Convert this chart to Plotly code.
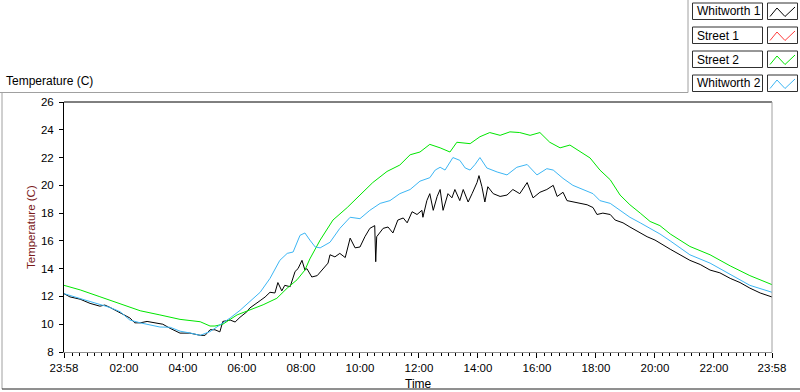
import plotly.graph_objects as go
from datetime import datetime, timedelta

# ---------------- data ----------------
green_t = ["23:58","00:31","01:11","01:52","02:33","03:13","03:54","04:35","04:55","05:05",
           "05:21","05:50","06:16","06:43","07:11","07:32","07:52","08:08","08:18","08:39",
           "09:05","09:34","10:00","10:26","10:55","11:21","11:42","12:02","12:22","12:43",
           "13:03","13:17","13:44","14:04","14:24","14:45","15:05","15:25","15:46","16:06",
           "16:26","16:47","17:07","17:28","17:48","18:08","18:29","18:49","19:09","19:30",
           "19:50","20:10","20:31","21:11","21:52","22:33","23:13","23:58"]
green_v = [12.8,12.47,11.98,11.5,10.97,10.67,10.35,10.18,9.87,9.87,
           10.0,10.67,11.0,11.4,11.87,12.6,13.2,13.9,14.7,16.06,
           17.5,18.4,19.3,20.2,21.0,21.46,22.2,22.4,22.95,22.7,
           22.4,23.1,23.0,23.5,23.8,23.6,23.85,23.8,23.6,23.8,
           23.1,22.7,22.9,22.4,21.97,21.1,20.4,19.3,18.6,18.0,
           17.4,17.1,16.5,15.6,15.0,14.2,13.5,12.85]

blue_t = ["23:58","00:31","01:11","01:32","01:52","02:12","02:33","03:13","03:34","03:54",
          "04:14","04:35","04:55","05:15","05:36","05:56","06:16","06:37","06:57","07:17",
          "07:32","07:44","07:58","08:08","08:18","08:29","08:39","08:59","09:19","09:40",
          "10:00","10:20","10:41","11:01","11:21","11:42","12:02","12:22","12:33","12:43",
          "12:53","13:09","13:23","13:34","13:44","13:54","14:04","14:18","14:39","14:59",
          "15:19","15:40","16:00","16:20","16:33","16:53","17:13","17:34","17:54","18:08",
          "18:29","18:49","19:09","19:30","19:50","20:10","20:31","20:51","21:11","21:52",
          "22:33","23:13","23:58"]
blue_v = [12.2,11.86,11.4,11.2,10.9,10.3,10.1,9.8,9.78,9.5,
          9.37,9.2,9.47,9.95,10.45,11.0,11.6,12.3,13.3,14.6,
          15.1,15.2,16.4,16.57,16.06,15.56,15.5,15.9,16.9,17.7,
          17.6,18.2,18.7,18.9,19.4,19.7,20.3,20.55,21.1,21.3,
          21.1,22.0,21.8,21.25,21.1,21.5,22.0,21.25,20.96,20.75,
          21.3,21.5,20.75,21.2,21.1,20.5,20.0,19.7,19.4,18.9,
          18.7,18.2,17.7,17.3,16.9,16.5,16.0,15.5,15.0,14.4,
          13.6,12.8,12.3]

black_t = ["23:58","00:10","00:31","00:51","01:11","01:21","01:32","01:52","02:12","02:22",
           "02:33","02:47","03:07","03:19","03:34","03:54","04:14","04:35","04:45","04:55",
           "05:05","05:15","05:21","05:36","05:46","05:56","06:10","06:16","06:37","06:47",
           "06:57","07:07","07:13","07:21","07:27","07:38","07:48","07:54","08:02","08:08",
           "08:12","08:22","08:33","08:45","08:55","08:59","09:09","09:19","09:30","09:40",
           "09:50","10:00","10:10","10:20","10:30","10:32","10:34","10:47","10:57","11:07",
           "11:17","11:28","11:36","11:46","11:56","12:06","12:08","12:16","12:22","12:29",
           "12:37","12:43","12:49","12:59","13:07","13:13","13:23","13:30","13:40","13:48",
           "13:58","14:02","14:08","14:14","14:20","14:31","14:45","14:59","15:11","15:25",
           "15:40","15:52","16:06","16:20","16:33","16:41","16:53","17:01","17:13","17:28",
           "17:42","17:54","18:02","18:14","18:29","18:39","18:55","19:09","19:30","19:44",
           "20:00","20:16","20:31","20:51","21:11","21:32","21:52","22:12","22:33","22:53",
           "23:13","23:34","23:58"]
black_v = [12.2,11.97,11.8,11.5,11.3,11.38,11.2,10.8,10.45,10.1,
           10.1,10.2,10.1,10.0,9.7,9.36,9.36,9.2,9.2,9.6,
           9.6,9.45,10.2,10.3,10.16,10.5,10.9,11.17,11.7,11.96,
           12.3,12.25,13.0,12.4,12.8,12.7,13.8,14.0,14.6,13.9,
           14.0,13.4,13.5,14.0,14.4,15.0,14.85,15.1,14.8,16.2,
           15.5,15.56,16.3,16.9,17.1,14.5,16.3,16.9,17.0,16.57,
           17.5,17.65,17.3,18.1,17.9,18.2,17.7,18.9,19.4,18.2,
           19.2,19.7,18.2,19.4,19.1,19.7,18.9,19.7,18.8,19.4,
           20.2,20.7,19.9,18.8,19.9,19.4,19.2,19.3,19.7,19.4,
           20.2,19.1,19.5,19.7,20.0,19.2,19.5,18.9,18.8,18.7,
           18.6,18.4,17.9,18.0,17.9,17.5,17.3,17.0,16.6,16.3,
           16.06,15.7,15.4,15.0,14.6,14.3,13.9,13.7,13.3,13.0,
           12.6,12.25,11.96]

red_t = []
red_v = []

series_names = ["Whitworth 1", "Street 1", "Street 2", "Whitworth 2"]
series_colors = ["#000000", "#ff3c3c", "#00e600", "#3cb6f4"]

x_tick_labels = ["23:58","02:00","04:00","06:00","08:00","10:00","12:00",
                 "14:00","16:00","18:00","20:00","22:00","23:58"]
y_ticks = [8, 10, 12, 14, 16, 18, 20, 22, 24, 26]

# ---------------- helpers ----------------
def to_dt(times):
    out = []
    for i, t in enumerate(times):
        day = 1 if (i == 0 and t == "23:58") else 2
        out.append(f"2013-01-0{day} {t}:00")
    return out

W, H = 800, 392
L, R, T, B = 64, 772, 102, 352

def px(x):
    return (x - L) / (R - L)

def py(y):
    return (B - y) / (B - T)

start = "2013-01-01 23:58:00"
end = "2013-01-02 23:58:00"
tickvals = [start] + [f"2013-01-02 {h:02d}:00:00" for h in range(2, 24, 2)] + [end]

minor_vals = []
t0 = datetime(2013, 1, 2, 0, 15)
while t0 < datetime(2013, 1, 2, 23, 58):
    if not (t0.minute == 0 and t0.hour % 2 == 0):
        minor_vals.append(t0.strftime("%Y-%m-%d %H:%M:%S"))
    t0 += timedelta(minutes=15)

FONT = "Liberation Sans"

fig = go.Figure()
data = [(black_t, black_v), (red_t, red_v), (green_t, green_v), (blue_t, blue_v)]
for (tt, vv), name, col in zip(data, series_names, series_colors):
    fig.add_trace(go.Scatter(x=to_dt(tt), y=vv, mode="lines", name=name,
                             line=dict(color=col, width=1), showlegend=False))

shapes = []
annotations = []

# plot frame: top black, right grey
shapes.append(dict(type="line", xref="paper", yref="paper", x0=0, x1=1, y0=1, y1=1,
                   line=dict(color="#000000", width=1)))
shapes.append(dict(type="line", xref="paper", yref="paper", x0=1, x1=1, y0=0, y1=1,
                   line=dict(color="#a0a0a0", width=1)))

# outer panel frame lines
shapes.append(dict(type="line", xref="paper", yref="paper", x0=px(0), x1=px(688),
                   y0=py(92.5), y1=py(92.5), line=dict(color="#a0a0a0", width=1)))
shapes.append(dict(type="line", xref="paper", yref="paper", x0=px(688), x1=px(688),
                   y0=py(0), y1=py(92.5), line=dict(color="#a0a0a0", width=1)))
shapes.append(dict(type="line", xref="paper", yref="paper", x0=px(2), x1=px(2),
                   y0=py(92.5), y1=py(389), line=dict(color="#a0a0a0", width=1)))
shapes.append(dict(type="line", xref="paper", yref="paper", x0=px(2), x1=px(800),
                   y0=py(389), y1=py(389), line=dict(color="#202020", width=1)))

# legend
row_tops = [3, 27, 51, 75]
for name, col, top in zip(series_names, series_colors, row_tops):
    bot = top + 16.5
    shapes.append(dict(type="rect", xref="paper", yref="paper",
                       x0=px(692.5), x1=px(762.5), y0=py(bot), y1=py(top),
                       line=dict(color="#303030", width=1), fillcolor="#ffffff"))
    shapes.append(dict(type="rect", xref="paper", yref="paper",
                       x0=px(767.5), x1=px(797.5), y0=py(bot), y1=py(top),
                       line=dict(color="#303030", width=1), fillcolor="#ffffff"))
    pts = [(770, top + 13.5), (777, top + 5), (785, top + 13.5), (795, top + 4)]
    path = "M " + " L ".join(f"{px(a):.5f},{py(b):.5f}" for a, b in pts)
    shapes.append(dict(type="path", xref="paper", yref="paper", path=path,
                       line=dict(color=col, width=1)))
    annotations.append(dict(x=px(694.5), y=py(top + 8.5), xref="paper", yref="paper",
                            text=name, showarrow=False, xanchor="left", yanchor="middle",
                            font=dict(family=FONT, size=12, color="#000000")))

annotations.append(dict(x=px(4), y=py(81), xref="paper", yref="paper",
                        text="Temperature (C)", showarrow=False, xanchor="left",
                        yanchor="middle", font=dict(family=FONT, size=12, color="#000000")))
annotations.append(dict(x=px(31), y=0.5, xref="paper", yref="paper",
                        text="Temperature (C)", showarrow=False, textangle=-90,
                        xanchor="center", yanchor="middle",
                        font=dict(family=FONT, size=11.5, color="#7a1a1a")))
annotations.append(dict(x=0.5, y=py(384), xref="paper", yref="paper",
                        text="Time", showarrow=False, xanchor="center", yanchor="middle",
                        font=dict(family=FONT, size=12, color="#000000")))

fig.update_layout(
    width=W, height=H, autosize=False,
    margin=dict(l=L, r=W - R, t=T, b=H - B, pad=0),
    paper_bgcolor="#ffffff", plot_bgcolor="#ffffff",
    showlegend=False,
    shapes=shapes, annotations=annotations,
    xaxis=dict(type="date", range=[start, end], tickmode="array", tickvals=tickvals,
               ticktext=x_tick_labels, ticks="outside", ticklen=5, tickcolor="#000000",
               showline=True, linecolor="#909090", linewidth=1, showgrid=False,
               zeroline=False, tickfont=dict(family=FONT, size=11.5, color="#000000"),
               minor=dict(tickmode="array", tickvals=minor_vals, ticks="outside",
                          ticklen=3, tickcolor="#000000", showgrid=False)),
    yaxis=dict(range=[8, 26], tickmode="array", tickvals=y_ticks,
               ticks="outside", ticklen=4, tickcolor="#000000",
               showline=True, linecolor="#000000", linewidth=1, showgrid=False,
               zeroline=False, tickfont=dict(family=FONT, size=11.5, color="#000000"),
               ticklabelstandoff=3),
)

fig.write_html("out.html", config={"displayModeBar": False},
               post_script="document.body.style.margin='0';document.body.style.overflow='hidden';")
